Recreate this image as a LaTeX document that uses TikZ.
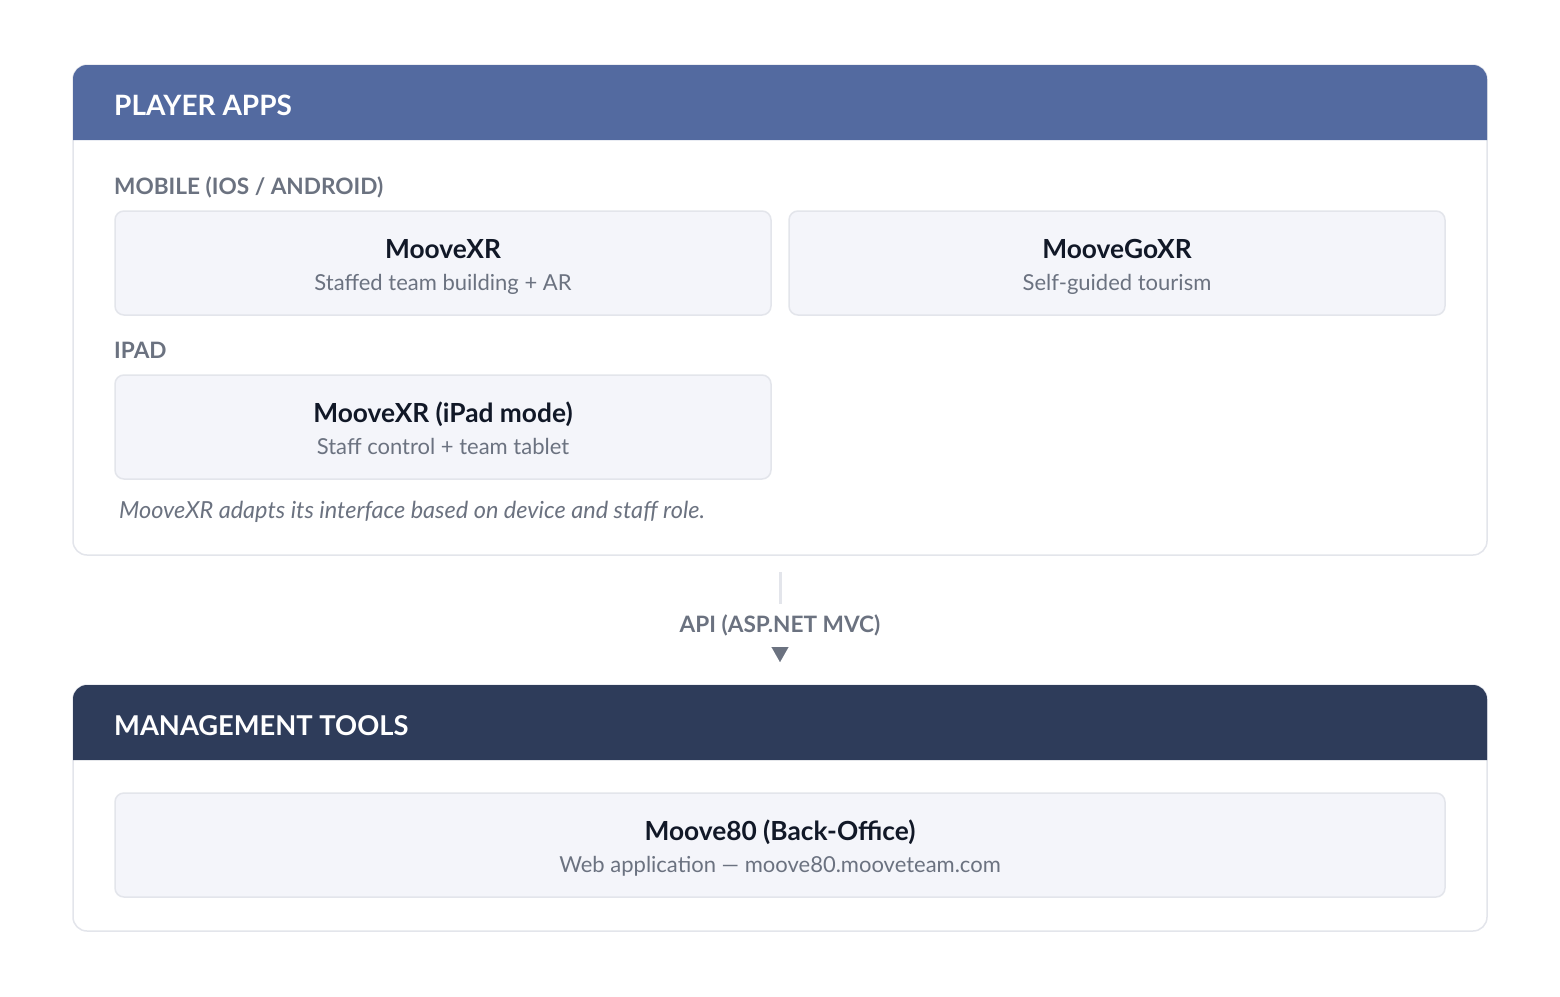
\documentclass[tikz,border=0pt]{standalone}
\usepackage{fontspec}
\setmainfont{Lato}
\usetikzlibrary{arrows.meta}
\definecolor{hdrblue}{HTML}{536AA0}
\definecolor{hdrdark}{HTML}{2E3C5A}
\definecolor{cardline}{HTML}{E3E5EB}
\definecolor{boxfill}{HTML}{F4F5FA}
\definecolor{inkdark}{HTML}{111827}
\definecolor{inkgray}{HTML}{6B7280}
\begin{document}
\begin{tikzpicture}[x=1pt, y=-1pt,
	card/.style={draw=cardline, line width=1.5pt, fill=white, rounded corners=14pt},
	appbox/.style={draw=cardline, line width=1.5pt, fill=boxfill, rounded corners=9pt, minimum height=104pt, inner sep=0pt},
	hdrtext/.style={anchor=base west, text=white, font=\fontsize{28}{30}\selectfont\bfseries, inner sep=0pt},
	grouptext/.style={anchor=base west, text=inkgray, font=\fontsize{22.6}{24}\selectfont\bfseries, inner sep=0pt},
	apptitle/.style={anchor=base, text=inkdark, font=\fontsize{26.3}{28}\selectfont\bfseries, inner sep=0pt},
	appsub/.style={anchor=base, text=inkgray, font=\fontsize{22}{24}\selectfont, inner sep=0pt}]
	\useasboundingbox (0,0) rectangle (1560,996);

	% player apps
	\draw[card] (73,65) rectangle (1487,555);
	\fill[hdrblue] (73,140) {[rounded corners=14pt] -- (73,65) -- (1487,65)} -- (1487,140) -- cycle;
	\node[hdrtext] (players) at (114,115) {PLAYER APPS};
	\node[grouptext] (mobile) at (114,194) {MOBILE (IOS / ANDROID)};
	\node[appbox, minimum width=656pt] (mxr) at (443,263) {};
	\node[apptitle] (mxrname) at (443,258) {MooveXR};
	\node[appsub] (mxrsub) at (443,290) {Staffed team building + AR};
	\node[appbox, minimum width=656pt] (mgo) at (1117,263) {};
	\node[apptitle] (mgoname) at (1117,258) {MooveGoXR};
	\node[appsub] (mgosub) at (1117,290) {Self-guided tourism};
	\node[grouptext] (ipad) at (114,358) {IPAD};
	\node[appbox, minimum width=656pt] (mxrpad) at (443,427) {};
	\node[apptitle] (mxrpadname) at (443,422) {MooveXR (iPad mode)};
	\node[appsub] (mxrpadsub) at (443,454) {Staff control + team tablet};
	\node[appsub, anchor=base west, font=\fontsize{23.5}{24}\selectfont\itshape] (note) at (119,518) {MooveXR adapts its interface based on device and staff role.};

	% api link
	\coordinate (apitop) at (780,572);
	\coordinate (apitip) at (780,662);
	\node[grouptext, anchor=base] (api) at (780,632) {API (ASP.NET MVC)};
	\draw[cardline, line width=3pt] (apitop) -- (api.north |- 0,604);
	\draw[inkgray, line width=0.1pt, -{Triangle[width=17pt,length=15pt]}] (api.south |- 0,650) -- (apitip);

	% management tools
	\draw[card] (73,685) rectangle (1487,931);
	\fill[hdrdark] (73,760) {[rounded corners=14pt] -- (73,685) -- (1487,685)} -- (1487,760) -- cycle;
	\node[hdrtext, font=\fontsize{27.3}{30}\selectfont\bfseries] (mgmt) at (114,735) {MANAGEMENT TOOLS};
	\node[appbox, minimum width=1330pt] (m80) at (780,845) {};
	\node[apptitle] (m80name) at (780,840) {Moove80 (Back-Office)};
	\node[appsub] (m80sub) at (780,872) {Web application — moove80.mooveteam.com};
\end{tikzpicture}
\end{document}
